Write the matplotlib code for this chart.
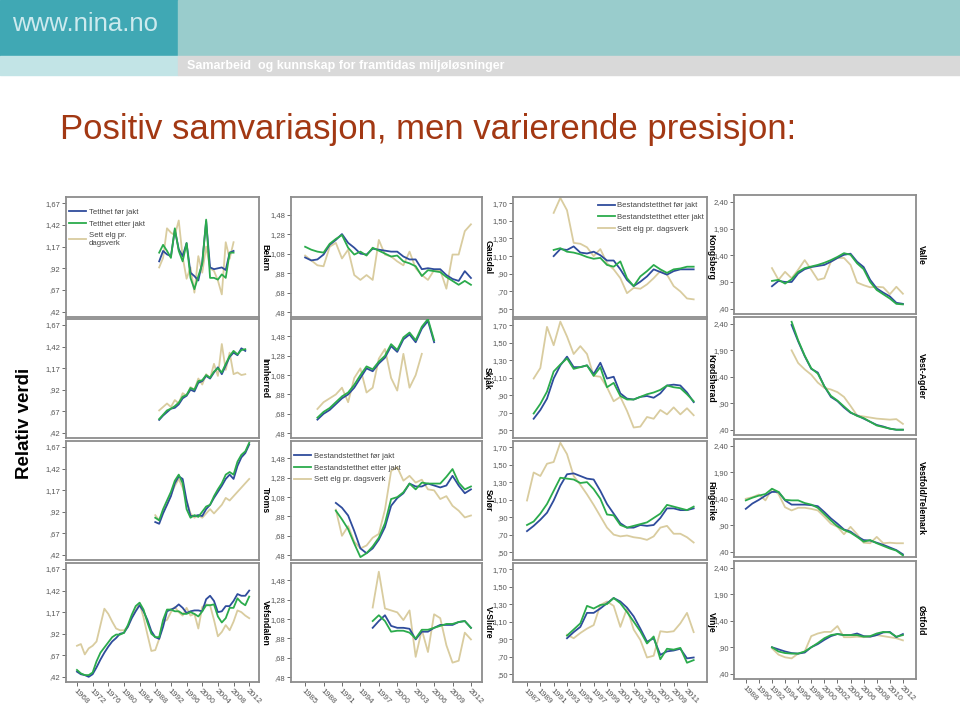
import numpy as np
import matplotlib.pyplot as plt
from matplotlib.patches import Rectangle

plt.rcParams['font.family'] = ['Liberation Sans', 'DejaVu Sans']

# ---- data: relative values (before hunt, after hunt, moose seen per day of hunting)
belarn_start = 1989
belarn_before = [1.00, 1.12, 1.08, 1.06, 1.36, 1.14, 1.06, 1.21, 0.87, 0.83, 0.78, 0.99, 1.46, 0.93, 0.91, 0.92, 0.93, 0.90, 1.10, 1.12]
belarn_after = [1.10, 1.19, 1.12, 1.04, 1.38, 1.12, 1.00, 1.21, 0.81, 0.68, 0.83, 0.97, 1.48, 0.81, 0.81, 0.79, 0.85, 0.81, 1.10, 1.10]
belarn_seen = [0.93, 1.04, 1.38, 1.33, 1.30, 1.47, 1.05, 0.80, 0.93, 0.64, 1.06, 0.87, 1.17, 0.92, 0.89, 0.78, 0.62, 1.22, 1.03, 1.22]

innherred_start = 1989
innherred_before = [0.57, 0.62, 0.66, 0.70, 0.71, 0.75, 0.82, 0.85, 0.92, 0.90, 1.00, 1.02, 1.08, 1.05, 1.12, 1.18, 1.10, 1.20, 1.30, 1.35, 1.32, 1.40, 1.37]
innherred_after = [0.58, 0.63, 0.68, 0.70, 0.73, 0.77, 0.84, 0.86, 0.94, 0.92, 1.02, 1.03, 1.09, 1.06, 1.13, 1.17, 1.12, 1.22, 1.31, 1.37, 1.33, 1.38, 1.39]
innherred_seen = [0.68, 0.72, 0.76, 0.72, 0.80, 0.76, 0.88, 0.85, 0.95, 0.92, 1.05, 0.98, 1.10, 1.05, 1.22, 1.08, 1.45, 1.15, 1.35, 1.10, 1.12, 1.09, 1.10]

troms_start = 1988
troms_before = [0.80, 0.78, 0.90, 1.00, 1.10, 1.25, 1.33, 1.30, 1.05, 0.87, 0.87, 0.88, 0.87, 0.95, 1.00, 1.08, 1.15, 1.22, 1.30, 1.35, 1.30, 1.45, 1.55, 1.60, 1.70]
troms_after = [0.85, 0.82, 0.95, 1.05, 1.15, 1.28, 1.35, 1.25, 0.95, 0.85, 0.88, 0.86, 0.92, 0.98, 1.00, 1.10, 1.18, 1.25, 1.35, 1.38, 1.35, 1.50, 1.58, 1.62, 1.72]
troms_seen = [0.88, 0.82, 0.92, 1.00, 1.12, 1.22, 1.30, 1.20, 1.05, 0.90, 0.85, 0.88, 0.85, 0.90, 0.95, 0.90, 0.95, 1.00, 1.08, 1.05, 1.10, 1.15, 1.20, 1.25, 1.30]

vefsn_start = 1968
vefsn_before = [0.48, 0.45, 0.44, 0.42, 0.45, 0.53, 0.62, 0.70, 0.77, 0.83, 0.87, 0.92, 0.93, 1.00, 1.10, 1.18,
                1.25, 1.18, 1.08, 0.95, 0.88, 0.86, 1.00, 1.18, 1.20, 1.22, 1.26, 1.22, 1.16, 1.18, 1.19, 1.19,
                1.18, 1.32, 1.36, 1.30, 1.17, 1.18, 1.24, 1.24, 1.30, 1.38, 1.36, 1.36, 1.42]
vefsn_after = [0.50, 0.46, 0.44, 0.44, 0.47, 0.60, 0.70, 0.76, 0.82, 0.88, 0.91, 0.91, 0.93, 1.02, 1.14, 1.24,
               1.28, 1.20, 1.05, 0.92, 0.88, 0.88, 1.08, 1.20, 1.20, 1.18, 1.18, 1.15, 1.15, 1.17, 1.15, 1.12,
               1.18, 1.25, 1.25, 1.26, 1.12, 1.05, 1.10, 1.22, 1.22, 1.33, 1.28, 1.25, 1.35]
vefsn_seen = [0.78, 0.80, 0.68, 0.75, 0.78, 0.83, 1.02, 1.21, 1.15, 1.06, 0.98, 0.96, 0.96, 1.00, 1.11, 1.19,
              1.27, 1.11, 0.91, 0.72, 0.73, 0.86, 1.06, 1.08, 1.17, 1.23, 1.17, 1.13, 1.22, 1.13, 1.15, 0.98,
              1.23, 1.26, 1.25, 1.08, 0.89, 0.94, 1.02, 0.96, 1.06, 1.19, 1.17, 1.13, 1.10]

gausdal_start = 1985
gausdal_before = [1.04, 1.01, 1.02, 1.07, 1.17, 1.22, 1.28, 1.19, 1.14, 1.08, 1.07, 1.13, 1.12, 1.11, 1.10, 1.10, 1.05, 1.02, 1.02, 0.92, 0.93, 0.92, 0.92, 0.86, 0.82, 0.80, 0.90, 0.83]
gausdal_after = [1.15, 1.12, 1.10, 1.09, 1.18, 1.23, 1.27, 1.14, 1.07, 1.10, 1.06, 1.14, 1.11, 1.08, 1.05, 1.06, 1.00, 0.98, 0.95, 0.85, 0.91, 0.90, 0.89, 0.84, 0.80, 0.76, 0.80, 0.76]
gausdal_seen = [1.06, 1.01, 0.96, 0.95, 1.15, 1.19, 1.03, 1.12, 0.86, 0.81, 0.86, 0.81, 1.22, 1.07, 1.05, 1.00, 0.96, 1.10, 0.93, 0.86, 0.81, 0.91, 0.91, 0.72, 1.07, 1.07, 1.31, 1.38]

skjak_start = 1987
skjak_before = [0.62, 0.68, 0.72, 0.78, 0.84, 0.88, 0.95, 1.05, 1.15, 1.12, 1.20, 1.26, 1.38, 1.32, 1.45, 1.50, 1.42, 1.56, 1.64, 1.42]
skjak_after = [0.64, 0.70, 0.74, 0.80, 0.86, 0.90, 0.98, 1.08, 1.17, 1.14, 1.22, 1.28, 1.40, 1.34, 1.47, 1.52, 1.44, 1.58, 1.66, 1.44]
skjak_seen = [0.73, 0.80, 0.84, 0.88, 0.95, 0.80, 1.05, 1.15, 0.90, 0.95, 1.25, 1.35, 1.05, 0.92, 1.30, 0.95, 1.08, 1.30]

solor_start = 1990
solor_before = [1.02, 0.97, 0.89, 0.73, 0.55, 0.50, 0.55, 0.64, 0.77, 0.99, 1.07, 1.12, 1.22, 1.19, 1.19, 1.22, 1.20, 1.18, 1.20, 1.30, 1.20, 1.12, 1.16]
solor_after = [0.94, 0.85, 0.75, 0.60, 0.46, 0.50, 0.57, 0.66, 0.81, 1.06, 1.08, 1.13, 1.22, 1.16, 1.23, 1.22, 1.22, 1.22, 1.29, 1.37, 1.23, 1.16, 1.19]
solor_seen = [0.95, 0.68, 0.78, 0.62, 0.55, 0.58, 0.66, 0.70, 0.95, 1.35, 1.39, 1.25, 1.30, 1.23, 1.26, 1.16, 1.15, 1.06, 1.09, 0.99, 0.94, 0.87, 0.89]

vslidre_start = 1996
vslidre_before = [0.99, 1.06, 1.12, 1.01, 0.99, 0.99, 0.98, 0.87, 0.95, 0.95, 0.99, 1.02, 1.02, 1.02, 1.05, 1.06, 0.99]
vslidre_after = [1.06, 1.12, 1.06, 0.95, 0.96, 0.96, 0.94, 0.88, 0.97, 0.97, 0.99, 1.01, 1.03, 1.03, 1.05, 1.06, 0.99]
vslidre_seen = [1.20, 1.57, 1.19, 1.17, 1.15, 1.07, 1.17, 0.69, 0.97, 0.74, 1.13, 1.09, 0.81, 0.63, 0.65, 0.94, 0.87]

kongsberg_start = 1991
kongsberg_before = [1.10, 1.18, 1.17, 1.21, 1.14, 1.13, 1.15, 1.11, 1.05, 1.05, 0.95, 0.83, 0.76, 0.81, 0.87, 0.95, 0.92, 0.89, 0.93, 0.95, 0.95, 0.95]
kongsberg_after = [1.17, 1.19, 1.15, 1.14, 1.12, 1.09, 1.07, 1.08, 1.00, 0.98, 1.04, 0.85, 0.76, 0.87, 0.93, 1.00, 0.95, 0.91, 0.95, 0.96, 0.98, 0.98]
kongsberg_seen = [1.59, 1.76, 1.62, 1.25, 1.24, 1.20, 1.10, 1.18, 1.02, 0.95, 0.85, 0.68, 0.74, 0.73, 0.78, 0.85, 0.93, 0.89, 0.76, 0.70, 0.62, 0.61]

krodsherad_start = 1988
krodsherad_before = [0.63, 0.73, 0.86, 1.09, 1.24, 1.34, 1.22, 1.22, 1.24, 1.14, 1.27, 1.09, 1.11, 0.92, 0.86, 0.85, 0.88, 0.89, 0.87, 0.92, 1.01, 1.02, 1.01, 0.93, 0.82]
krodsherad_after = [0.69, 0.80, 0.94, 1.17, 1.25, 1.32, 1.20, 1.22, 1.24, 1.12, 1.22, 0.99, 1.04, 0.89, 0.85, 0.85, 0.88, 0.91, 0.93, 0.96, 1.01, 0.99, 0.98, 0.91, 0.83]
krodsherad_seen = [1.09, 1.21, 1.68, 1.47, 1.74, 1.57, 1.37, 1.46, 1.37, 1.12, 1.11, 0.99, 0.83, 0.88, 0.72, 0.53, 0.54, 0.65, 0.63, 0.73, 0.68, 0.76, 0.68, 0.75, 0.67]

ringerike_start = 1987
ringerike_before = [0.74, 0.80, 0.87, 0.95, 1.09, 1.26, 1.39, 1.40, 1.37, 1.34, 1.33, 1.20, 1.05, 0.94, 0.83, 0.78, 0.78, 0.81, 0.80, 0.81, 0.89, 1.00, 1.00, 0.98, 0.98, 1.00]
ringerike_after = [0.81, 0.85, 0.94, 1.05, 1.20, 1.35, 1.34, 1.33, 1.29, 1.30, 1.22, 1.11, 0.93, 0.92, 0.81, 0.78, 0.80, 0.82, 0.84, 0.89, 0.94, 1.04, 1.02, 1.00, 0.98, 1.02]
ringerike_seen = [1.09, 1.41, 1.37, 1.51, 1.53, 1.75, 1.62, 1.37, 1.27, 1.16, 1.04, 0.91, 0.78, 0.70, 0.68, 0.69, 0.67, 0.66, 0.64, 0.68, 0.78, 0.80, 0.71, 0.71, 0.67, 0.61]

vinje_start = 1993
vinje_before = [0.91, 0.98, 1.04, 1.20, 1.20, 1.25, 1.31, 1.37, 1.33, 1.26, 1.16, 1.02, 0.87, 0.91, 0.72, 0.76, 0.77, 0.79, 0.68, 0.69]
vinje_after = [0.94, 1.01, 1.08, 1.28, 1.25, 1.29, 1.30, 1.37, 1.31, 1.21, 1.10, 0.99, 0.85, 0.93, 0.67, 0.79, 0.78, 0.80, 0.63, 0.66]
vinje_seen = [0.95, 0.91, 0.97, 1.02, 1.06, 1.29, 1.33, 1.28, 1.04, 1.25, 1.01, 0.89, 0.69, 0.71, 0.99, 0.98, 0.99, 1.08, 1.20, 0.98]

valle_start = 1992
valle_before = [0.82, 0.92, 0.90, 0.90, 1.06, 1.14, 1.18, 1.20, 1.22, 1.28, 1.35, 1.41, 1.43, 1.28, 1.18, 0.94, 0.78, 0.70, 0.63, 0.51, 0.49]
valle_after = [0.92, 0.94, 0.87, 0.95, 1.09, 1.16, 1.19, 1.22, 1.26, 1.31, 1.37, 1.44, 1.41, 1.25, 1.14, 0.90, 0.75, 0.67, 0.59, 0.49, 0.48]
valle_seen = [1.16, 0.94, 1.09, 0.97, 1.13, 1.31, 1.13, 0.94, 0.97, 1.28, 1.35, 1.35, 1.22, 0.89, 0.84, 0.80, 0.81, 0.80, 0.67, 0.81, 0.68]

vagder_start = 1995
vagder_before = [2.38, 2.07, 1.79, 1.55, 1.48, 1.22, 1.02, 0.94, 0.82, 0.72, 0.67, 0.61, 0.55, 0.49, 0.46, 0.42, 0.40, 0.40]
vagder_after = [2.44, 2.09, 1.80, 1.56, 1.46, 1.22, 1.04, 0.95, 0.84, 0.73, 0.66, 0.62, 0.55, 0.48, 0.45, 0.42, 0.40, 0.40]
vagder_seen = [1.90, 1.66, 1.54, 1.44, 1.29, 1.19, 1.16, 1.11, 1.02, 0.85, 0.67, 0.65, 0.63, 0.61, 0.60, 0.59, 0.60, 0.51]

vftm_start = 1988
vftm_before = [1.21, 1.31, 1.38, 1.46, 1.53, 1.53, 1.37, 1.29, 1.29, 1.29, 1.28, 1.26, 1.15, 1.03, 0.93, 0.82, 0.78, 0.69, 0.62, 0.61, 0.57, 0.53, 0.48, 0.43, 0.35]
vftm_after = [1.37, 1.42, 1.46, 1.49, 1.59, 1.53, 1.38, 1.37, 1.37, 1.32, 1.29, 1.23, 1.11, 0.99, 0.88, 0.81, 0.76, 0.68, 0.59, 0.62, 0.56, 0.51, 0.46, 0.42, 0.33]
vftm_seen = [1.40, 1.43, 1.48, 1.37, 1.59, 1.49, 1.24, 1.18, 1.23, 1.23, 1.21, 1.18, 1.06, 0.93, 0.87, 0.73, 0.87, 0.73, 0.57, 0.56, 0.68, 0.56, 0.57, 0.56, 0.56]

ostfold_start = 1992
ostfold_before = [0.90, 0.86, 0.82, 0.79, 0.78, 0.80, 0.90, 0.96, 1.04, 1.11, 1.15, 1.13, 1.13, 1.16, 1.11, 1.10, 1.13, 1.18, 1.19, 1.09, 1.15]
ostfold_after = [0.90, 0.82, 0.79, 0.78, 0.78, 0.82, 0.90, 0.98, 1.07, 1.13, 1.15, 1.13, 1.13, 1.13, 1.10, 1.11, 1.16, 1.19, 1.18, 1.10, 1.13]
ostfold_seen = [0.88, 0.76, 0.71, 0.69, 0.78, 0.82, 1.11, 1.16, 1.19, 1.19, 1.30, 1.09, 1.09, 1.10, 1.09, 1.10, 1.13, 1.11, 1.09, 1.07, 1.03]

# (column, row, name, start, before, after, seen)
panels = [
    (0, 0, 'Belarn', belarn_start, belarn_before, belarn_after, belarn_seen),
    (0, 1, 'Innherred', innherred_start, innherred_before, innherred_after, innherred_seen),
    (0, 2, 'Troms', troms_start, troms_before, troms_after, troms_seen),
    (0, 3, 'Vefsndalen', vefsn_start, vefsn_before, vefsn_after, vefsn_seen),
    (1, 0, 'Gausdal', gausdal_start, gausdal_before, gausdal_after, gausdal_seen),
    (1, 1, 'Skjåk', skjak_start, skjak_before, skjak_after, skjak_seen),
    (1, 2, 'Solør', solor_start, solor_before, solor_after, solor_seen),
    (1, 3, 'V-Slidre', vslidre_start, vslidre_before, vslidre_after, vslidre_seen),
    (2, 0, 'Kongsberg', kongsberg_start, kongsberg_before, kongsberg_after, kongsberg_seen),
    (2, 1, 'Krødsherad', krodsherad_start, krodsherad_before, krodsherad_after, krodsherad_seen),
    (2, 2, 'Ringerike', ringerike_start, ringerike_before, ringerike_after, ringerike_seen),
    (2, 3, 'Vinje', vinje_start, vinje_before, vinje_after, vinje_seen),
    (3, 0, 'Valle', valle_start, valle_before, valle_after, valle_seen),
    (3, 1, 'Vest-Agder', vagder_start, vagder_before, vagder_after, vagder_seen),
    (3, 2, 'Vestfold/Telemark', vftm_start, vftm_before, vftm_after, vftm_seen),
    (3, 3, 'Østfold', ostfold_start, ostfold_before, ostfold_after, ostfold_seen),
]

legend_small = ['Tetthet før jakt', 'Tetthet etter jakt', 'Sett elg pr.\ndagsverk']
legend_long = ['Bestandstetthet før jakt', 'Bestandstetthet etter jakt', 'Sett elg pr. dagsverk']

# column layout in pixels (figure is 960 x 707)
cols = [
    dict(x0=66, x1=259, xlim=(1965.2, 2014.5), xt=list(range(1968, 2013, 4)),
         yt=[0.42, 0.67, 0.92, 1.17, 1.42, 1.67], ylim=(0.36, 1.74), lab=265),
    dict(x0=291, x1=482, xlim=(1982.7, 2013.8), xt=list(range(1985, 2013, 3)),
         yt=[0.48, 0.68, 0.88, 1.08, 1.28, 1.48], ylim=(0.43, 1.66), lab=488),
    dict(x0=513, x1=707, xlim=(1984.9, 2014.0), xt=list(range(1987, 2012, 2)),
         yt=[0.50, 0.70, 0.90, 1.10, 1.30, 1.50, 1.70], ylim=(0.41, 1.77), lab=711),
    dict(x0=734, x1=916, xlim=(1986.2, 2014.0), xt=list(range(1988, 2013, 2)),
         yt=[0.40, 0.90, 1.40, 1.90, 2.40], ylim=(0.30, 2.53), lab=921),
]
rows = [(197, 317), (319, 438), (441, 560), (563, 682)]

BLUE, GREEN, TAN = '#2f4c9c', '#2bab4c', '#d9cc9f'
W, H = 960, 707


def comma(v):
    s = f'{v:.2f}'.replace('.', ',')
    return s[1:] if s.startswith('0') else s


fig = plt.figure(figsize=(9.6, 7.07), dpi=100)

# header bars
fig.patches.append(Rectangle((0, 1 - 56 / H), 178 / W, 56 / H, transform=fig.transFigure, color='#40a8b4'))
fig.patches.append(Rectangle((178 / W, 1 - 56 / H), 1, 56 / H, transform=fig.transFigure, color='#99cccc'))
fig.patches.append(Rectangle((0, 1 - 75 / H), 178 / W, 19 / H, transform=fig.transFigure, color='#c2e4e6'))
fig.patches.append(Rectangle((178 / W, 1 - 75 / H), 1, 19 / H, transform=fig.transFigure, color='#d9d9d9'))
fig.text(12 / W, 1 - 24 / H, 'www.nina.no', fontsize=18.5, color='#cdeaee', va='center')
fig.text(187 / W, 1 - 66 / H, 'Samarbeid  og kunnskap for framtidas miljøløsninger', fontsize=9,
         color='white', fontweight='bold', va='center')
fig.text(60 / W, 1 - 130 / H, 'Positiv samvariasjon, men varierende presisjon:', fontsize=25,
         color='#a23813', va='center')
fig.text(25 / W, 1 - 423 / H, 'Relativ verdi', fontsize=13.5, fontweight='bold', rotation=90,
         ha='center', va='center')

for c, r, name, start, before, after, seen in panels:
    cs = cols[c]
    top, bot = rows[r]
    if c == 3:
        top, bot = top - 2, bot - 3
    ax = fig.add_axes([cs['x0'] / W, 1 - bot / H, (cs['x1'] - cs['x0']) / W, (bot - top) / H])
    ax.plot(np.arange(start, start + len(before)), before, color=BLUE, lw=1.3, zorder=3)
    ax.plot(np.arange(start, start + len(after)), after, color=GREEN, lw=1.3, zorder=4)
    ax.plot(np.arange(start, start + len(seen)), seen, color=TAN, lw=1.3, zorder=2)
    ax.set_xlim(cs['xlim'])
    ax.set_ylim(cs['ylim'])
    ax.set_yticks(cs['yt'])
    ax.set_yticklabels([comma(v) for v in cs['yt']])
    ax.tick_params(axis='both', labelsize=5.5, colors='#555555', length=3, width=0.6, pad=1)
    if r == 3:
        ax.set_xticks(cs['xt'])
        ax.set_xticklabels([str(t) for t in cs['xt']], rotation=-45, ha='left', va='top',
                           rotation_mode='anchor', fontsize=6)
    else:
        ax.set_xticks([])
    for sp in ax.spines.values():
        sp.set_color('#8c8c8c')
        sp.set_linewidth(1.3)
    fig.text(cs['lab'] / W, 1 - (top + bot) / 2 / H, name, rotation=270, fontsize=6.2,
             fontweight='bold', ha='center', va='center')

    if (c, r) in [(0, 0), (1, 2), (2, 0)]:
        labels = legend_small if c == 0 else legend_long
        if c == 2:
            loc, anchor = 'upper right', (1.0, 0.985)
        else:
            loc, anchor = 'upper left', (0.0, 0.93)
        h = ax.get_lines()
        ax.legend(h, labels, loc=loc, bbox_to_anchor=anchor, frameon=False, fontsize=5.6,
                  handlelength=2.2, labelspacing=0.55, handletextpad=0.3, borderaxespad=0.2,
                  borderpad=0.2, labelcolor='#444444')

fig.savefig('out.png', dpi=100)
